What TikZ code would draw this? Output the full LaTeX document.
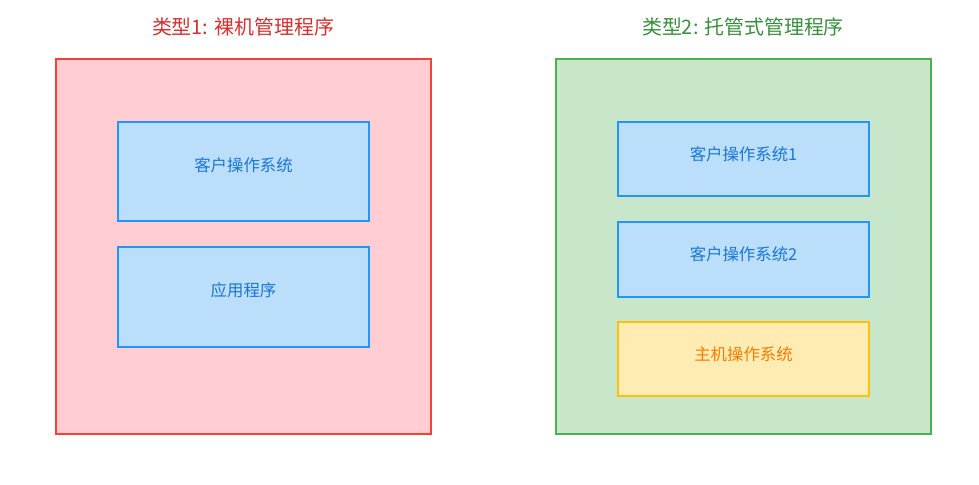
\documentclass[tikz,border=0pt]{standalone}
\usepackage{fontspec}
\setmainfont{Noto Sans CJK SC}
\definecolor{redf}{HTML}{FFCDD2}\definecolor{redd}{HTML}{F44336}
\definecolor{grnf}{HTML}{C8E6C9}\definecolor{grnd}{HTML}{4CAF50}
\definecolor{bluf}{HTML}{BBDEFB}\definecolor{blud}{HTML}{2196F3}\definecolor{blut}{HTML}{1976D2}
\definecolor{yelf}{HTML}{FFECB3}\definecolor{yeld}{HTML}{FFC107}\definecolor{yelt}{HTML}{F57C00}
\definecolor{redt}{HTML}{D32F2F}\definecolor{grnt}{HTML}{388E3C}
\begin{document}
\begin{tikzpicture}[x=0.03cm,y=-0.03cm,
 outer/.style={line width=1.3pt},
 inner/.style={line width=1.1pt,fill=bluf,draw=blud},
 lbl/.style={font=\fontsize{14}{16}\selectfont,text=blut},
 ttl/.style={font=\fontsize{17}{20}\selectfont}]
\useasboundingbox (0,0) rectangle (979,485);
\draw[outer,fill=redf,draw=redd] (56,59) rectangle (431,434);
\draw[outer,fill=grnf,draw=grnd] (556,59) rectangle (931,434);
\node[ttl,text=redt] (t1) at (243,27) {类型1: 裸机管理程序};
\node[ttl,text=grnt] (t2) at (743,27) {类型2: 托管式管理程序};
\draw[inner] (118,122) rectangle (369,221);
\node[lbl] (a) at (243.5,165) {客户操作系统};
\draw[inner] (118,247) rectangle (369,347);
\node[lbl] (b) at (243.5,290) {应用程序};
\draw[inner] (618,122) rectangle (869,196);
\node[lbl] (c) at (743.5,154) {客户操作系统1};
\draw[inner] (618,222) rectangle (869,297);
\node[lbl] (d) at (743.5,254) {客户操作系统2};
\draw[inner,fill=yelf,draw=yeld] (618,322) rectangle (869,396);
\node[lbl,text=yelt] (e) at (743.5,354) {主机操作系统};
\end{tikzpicture}
\end{document}
